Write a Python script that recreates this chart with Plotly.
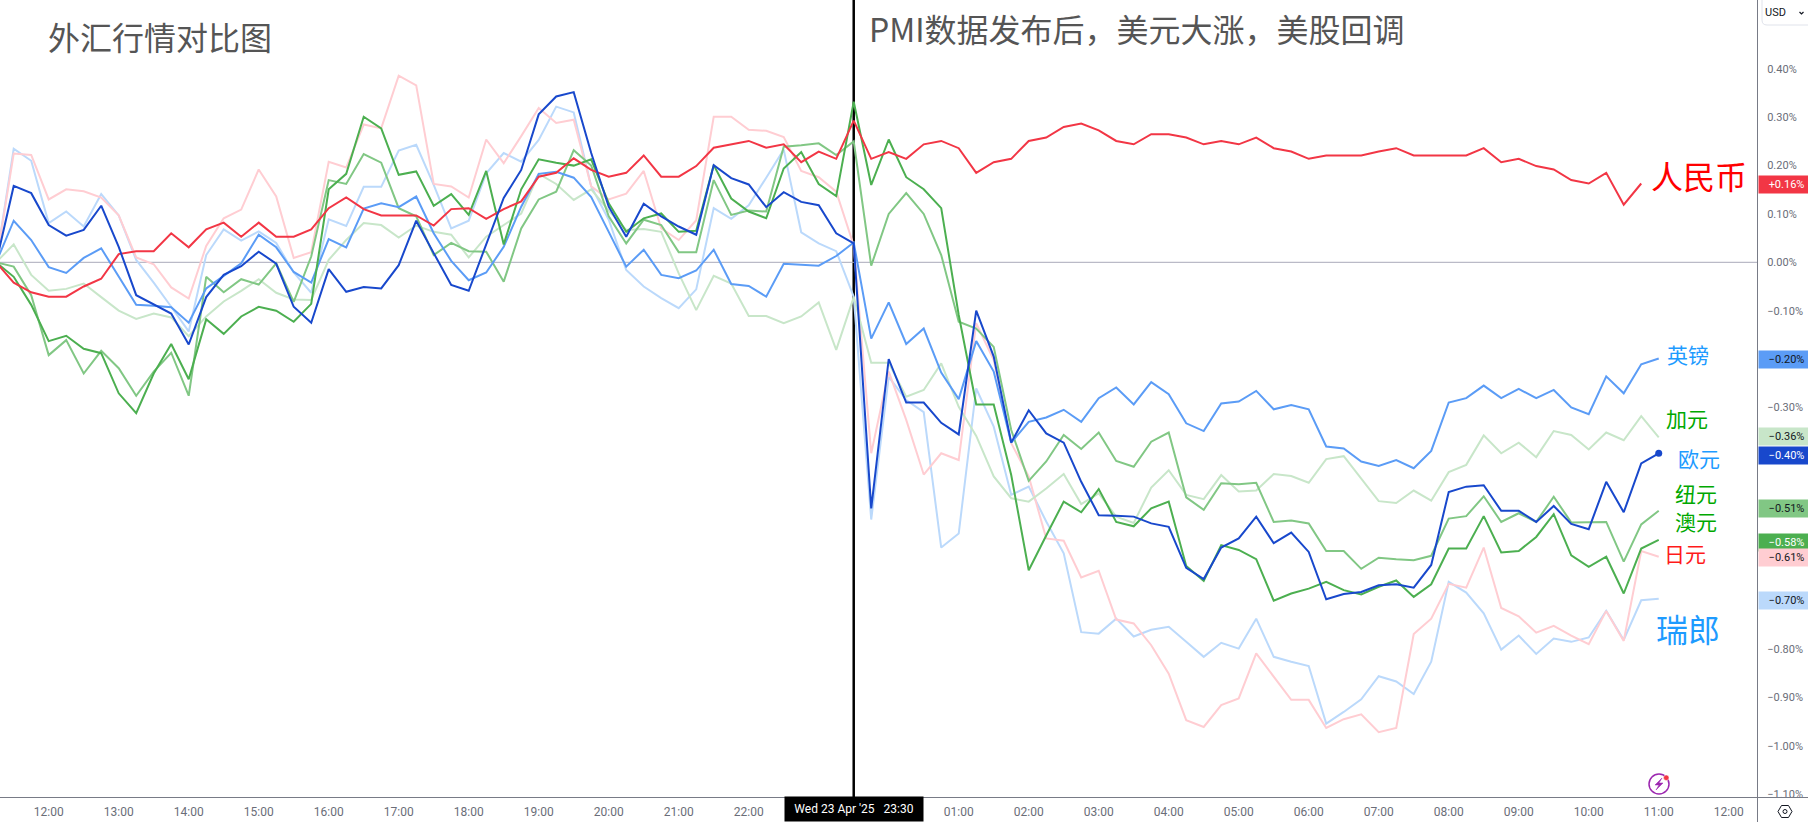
import plotly.graph_objects as go
import pandas as pd

TIMES = pd.date_range("2025-04-23 11:15", periods=96, freq="15min")

CNY = [0.000,-0.042,-0.062,-0.071,-0.071,-0.050,-0.034,0.017,0.023,0.023,
       0.060,0.031,0.068,0.082,0.053,0.082,0.053,0.053,0.068,0.112,
       0.134,0.110,0.097,0.097,0.097,0.076,0.110,0.112,0.090,0.110,
       0.126,0.177,0.185,0.215,0.191,0.177,0.185,0.221,0.177,0.177,
       0.199,0.237,0.244,0.251,0.237,0.244,0.207,0.229,0.214,0.293,
       0.214,0.228,0.214,0.244,0.251,0.236,0.185,0.207,0.214,0.251,
       0.258,0.280,0.287,0.273,0.251,0.244,0.265,0.265,0.258,0.244,
       0.251,0.244,0.258,0.236,0.229,0.214,0.221,0.221,0.221,0.229,
       0.236,0.221,0.221,0.221,0.221,0.236,0.207,0.214,0.199,0.192,
       0.170,0.163,0.185,0.119,0.163]
JPY = [0.000,0.225,0.222,0.130,0.151,0.147,0.134,0.097,0.010,-0.004,
       -0.052,-0.075,0.034,0.091,0.109,0.192,0.136,0.009,0.021,0.208,
       0.196,0.285,0.277,0.386,0.366,0.162,0.157,0.134,0.254,0.205,
       0.261,0.319,0.288,0.295,0.157,0.130,0.142,0.189,0.070,0.046,
       0.087,0.301,0.301,0.274,0.272,0.259,0.189,0.176,0.146,0.035,
       -0.395,-0.226,-0.326,-0.439,-0.395,-0.409,-0.126,-0.202,-0.374,-0.443,
       -0.571,-0.576,-0.652,-0.638,-0.739,-0.747,-0.792,-0.851,-0.947,-0.961,
       -0.916,-0.902,-0.809,-0.857,-0.905,-0.905,-0.963,-0.945,-0.935,-0.972,
       -0.963,-0.769,-0.737,-0.665,-0.673,-0.590,-0.715,-0.732,-0.766,-0.752,
       -0.772,-0.790,-0.721,-0.783,-0.597,-0.609]
CHF = [0.000,0.235,0.210,0.081,0.105,0.074,0.141,0.097,0.005,-0.042,
       -0.092,-0.143,0.015,0.068,0.045,0.064,0.040,-0.021,-0.063,0.089,
       0.075,0.156,0.156,0.231,0.243,0.160,0.070,0.086,0.184,0.226,
       0.208,0.253,0.322,0.310,0.157,0.088,-0.016,-0.050,-0.074,-0.095,
       -0.056,0.112,0.090,0.118,0.175,0.233,0.062,0.039,0.023,-0.071,
       -0.532,-0.237,-0.285,-0.310,-0.590,-0.561,-0.261,-0.340,-0.481,-0.464,
       -0.536,-0.602,-0.765,-0.768,-0.737,-0.774,-0.760,-0.754,-0.785,-0.816,
       -0.787,-0.799,-0.737,-0.816,-0.826,-0.835,-0.954,-0.930,-0.904,-0.856,
       -0.867,-0.893,-0.826,-0.661,-0.683,-0.726,-0.801,-0.772,-0.810,-0.778,
       -0.785,-0.776,-0.721,-0.781,-0.699,-0.696]
GBP = [0.000,0.086,0.046,-0.010,-0.022,0.009,0.029,-0.030,-0.088,-0.090,
       -0.093,-0.125,-0.054,-0.028,-0.002,0.057,0.031,-0.020,-0.042,0.048,
       0.031,0.111,0.122,0.114,0.136,0.060,0.003,-0.037,-0.021,0.032,
       0.115,0.183,0.187,0.175,0.135,0.063,-0.009,0.026,-0.026,-0.033,
       -0.017,0.026,-0.045,-0.049,-0.071,-0.003,-0.005,-0.007,0.013,0.041,
       -0.158,-0.083,-0.169,-0.137,-0.228,-0.283,-0.163,-0.226,-0.373,-0.330,
       -0.321,-0.305,-0.330,-0.281,-0.259,-0.294,-0.248,-0.273,-0.333,-0.349,
       -0.292,-0.288,-0.266,-0.304,-0.295,-0.304,-0.381,-0.385,-0.412,-0.421,
       -0.409,-0.426,-0.390,-0.290,-0.281,-0.255,-0.281,-0.262,-0.281,-0.264,
       -0.300,-0.314,-0.236,-0.271,-0.211,-0.199]
EUR = [0.000,0.158,0.143,0.077,0.055,0.067,0.117,0.032,-0.068,-0.087,
       -0.106,-0.170,-0.072,-0.026,-0.008,0.022,-0.003,-0.092,-0.125,-0.014,
       -0.061,-0.051,-0.054,-0.006,0.086,0.019,-0.047,-0.059,0.036,0.133,
       0.191,0.306,0.343,0.352,0.226,0.115,0.053,0.121,0.095,0.074,
       0.057,0.201,0.174,0.161,0.114,0.145,0.125,0.118,0.060,0.039,
       -0.509,-0.200,-0.290,-0.290,-0.332,-0.356,-0.100,-0.195,-0.373,-0.306,
       -0.354,-0.373,-0.454,-0.523,-0.524,-0.526,-0.540,-0.547,-0.632,-0.655,
       -0.590,-0.571,-0.526,-0.581,-0.559,-0.599,-0.697,-0.686,-0.682,-0.668,
       -0.666,-0.673,-0.626,-0.475,-0.464,-0.461,-0.514,-0.514,-0.537,-0.504,
       -0.541,-0.552,-0.454,-0.517,-0.416,-0.395]
NZD = [0.000,-0.009,-0.068,-0.192,-0.161,-0.230,-0.183,-0.219,-0.276,-0.226,
       -0.187,-0.276,-0.030,-0.062,-0.035,-0.046,-0.002,-0.082,0.012,0.170,
       0.162,0.224,0.206,0.112,0.095,0.015,0.040,0.023,0.022,-0.040,
       0.070,0.130,0.146,0.232,0.200,0.095,0.039,0.088,0.077,0.021,
       0.021,0.170,0.098,0.107,0.105,0.239,0.242,0.246,0.222,0.250,
       -0.007,0.100,0.143,0.100,0.015,-0.123,-0.137,-0.175,-0.347,-0.452,
       -0.412,-0.357,-0.386,-0.352,-0.411,-0.423,-0.371,-0.352,-0.486,-0.512,
       -0.457,-0.459,-0.456,-0.537,-0.534,-0.540,-0.597,-0.597,-0.634,-0.611,
       -0.614,-0.616,-0.607,-0.530,-0.525,-0.484,-0.537,-0.519,-0.537,-0.485,
       -0.538,-0.538,-0.537,-0.619,-0.542,-0.514]
AUD = [0.000,-0.030,-0.088,-0.163,-0.152,-0.179,-0.188,-0.271,-0.312,-0.230,
       -0.169,-0.242,-0.118,-0.148,-0.112,-0.092,-0.100,-0.123,-0.086,0.151,
       0.183,0.301,0.277,0.181,0.188,0.117,0.141,0.098,0.189,0.037,
       0.151,0.213,0.206,0.200,0.213,0.122,0.063,0.091,0.101,0.063,
       0.065,0.201,0.132,0.105,0.091,0.194,0.228,0.162,0.137,0.332,
       0.160,0.254,0.176,0.151,0.112,-0.109,-0.294,-0.294,-0.440,-0.637,
       -0.565,-0.495,-0.517,-0.469,-0.537,-0.546,-0.509,-0.495,-0.628,-0.659,
       -0.585,-0.595,-0.614,-0.700,-0.685,-0.675,-0.661,-0.678,-0.687,-0.671,
       -0.658,-0.692,-0.666,-0.592,-0.592,-0.525,-0.600,-0.597,-0.568,-0.521,
       -0.606,-0.630,-0.609,-0.685,-0.592,-0.574]
CAD = [0.000,0.037,-0.026,-0.059,-0.055,-0.044,-0.072,-0.100,-0.117,-0.106,
       -0.114,-0.153,-0.112,-0.081,-0.059,-0.035,-0.063,-0.077,-0.078,0.005,
       0.046,0.081,0.077,0.051,0.076,0.063,0.057,0.010,0.053,0.077,
       0.101,0.183,0.162,0.129,0.151,0.107,0.067,0.069,0.063,-0.023,
       -0.099,-0.028,-0.044,-0.111,-0.111,-0.126,-0.112,-0.083,-0.181,-0.072,
       -0.208,-0.208,-0.278,-0.264,-0.209,-0.299,-0.359,-0.443,-0.488,-0.495,
       -0.468,-0.438,-0.500,-0.478,-0.526,-0.539,-0.466,-0.430,-0.481,-0.490,
       -0.440,-0.474,-0.472,-0.438,-0.442,-0.456,-0.407,-0.401,-0.447,-0.494,
       -0.498,-0.472,-0.493,-0.434,-0.419,-0.358,-0.395,-0.373,-0.403,-0.349,
       -0.357,-0.387,-0.352,-0.368,-0.318,-0.362]

SERIES = [("CHF", CHF, "#bbd9fb"), ("JPY", JPY, "#ffcdd2"), ("CAD", CAD, "#c8e6c9"),
          ("NZD", NZD, "#81c784"), ("GBP", GBP, "#5b9cf6"), ("AUD", AUD, "#4caf50"),
          ("CNY", CNY, "#f23645"), ("EUR", EUR, "#1848cc")]

Y_TICKS = [0.4, 0.3, 0.2, 0.1, 0.0, -0.1, -0.3, -0.5, -0.8, -0.9, -1.0, -1.1]
Y_TICK_LABELS = ["0.40%", "0.30%", "0.20%", "0.10%", "0.00%", "−0.10%", "−0.30%",
                 "−0.50%", "−0.80%", "−0.90%", "−1.00%", "−1.10%"]

X_TICKS = ["2025-04-23 12:00", "2025-04-23 13:00", "2025-04-23 14:00", "2025-04-23 15:00",
           "2025-04-23 16:00", "2025-04-23 17:00", "2025-04-23 18:00", "2025-04-23 19:00",
           "2025-04-23 20:00", "2025-04-23 21:00", "2025-04-23 22:00", "2025-04-24 01:00",
           "2025-04-24 02:00", "2025-04-24 03:00", "2025-04-24 04:00", "2025-04-24 05:00",
           "2025-04-24 06:00", "2025-04-24 07:00", "2025-04-24 08:00", "2025-04-24 09:00",
           "2025-04-24 10:00", "2025-04-24 11:00", "2025-04-24 12:00"]
X_TICK_LABELS = ["12:00", "13:00", "14:00", "15:00", "16:00", "17:00", "18:00", "19:00", "20:00",
                 "21:00", "22:00", "01:00", "02:00", "03:00", "04:00", "05:00", "06:00", "07:00",
                 "08:00", "09:00", "10:00", "11:00", "12:00"]

LAST_TAGS = [(0.16, "+0.16%", "#f23645", "#ffffff"), (-0.20, "−0.20%", "#5b9cf6", "#131722"),
             (-0.36, "−0.36%", "#c8e6c9", "#131722"), (-0.40, "−0.40%", "#1848cc", "#ffffff"),
             (-0.51, "−0.51%", "#81c784", "#131722"), (-0.58, "−0.58%", "#4caf50", "#ffffff"),
             (-0.61, "−0.61%", "#ffcdd2", "#131722"), (-0.70, "−0.70%", "#bbd9fb", "#131722")]

CJK = "Noto Sans CJK SC"
NOTES = [("外汇行情对比图", 160, 36, 32, "#555555"),
         ("PMI数据发布后\uff0c美元大涨\uff0c美股回调", 1137, 28, 32, "#555555"),
         ("人民币", 1699, 175, 32, "#ff0000"), ("英镑", 1688, 354, 21, "#1e9bff"),
         ("加元", 1687, 418, 21, "#00a800"), ("欧元", 1699, 458, 21, "#1e9bff"),
         ("纽元", 1696, 493, 21, "#00a800"), ("澳元", 1696, 521, 21, "#00a800"),
         ("日元", 1685, 553, 21, "#ff1a1a"), ("瑞郎", 1688, 628, 32, "#1e9bff")]

W, H, PW, PH = 1808, 822, 1757, 797
def PX(p): return p / PW
def PY(p): return 1 - p / PH
def path(points, close=False):
    s = "M " + " L ".join(f"{PX(a):.6f},{PY(b):.6f}" for a, b in points)
    return s + (" Z" if close else "")

fig = go.Figure()
for name, vals, color in SERIES:
    fig.add_trace(go.Scatter(x=TIMES[:len(vals)], y=vals, mode="lines", name=name,
                             line=dict(color=color, width=2), hoverinfo="skip"))
fig.add_trace(go.Scatter(x=[TIMES[-1]], y=[EUR[-1]], mode="markers", name="EUR last",
                         marker=dict(color="#1848cc", size=7), hoverinfo="skip"))

AXC = "#787b86"
shapes = [
    dict(type="line", xref="x", yref="paper", x0=TIMES[49], x1=TIMES[49], y0=0, y1=1,
         line=dict(color="#000000", width=2.5), layer="below"),
    dict(type="line", xref="paper", yref="y", x0=0, x1=1, y0=0, y1=0,
         line=dict(color="#a9a9ba", width=1), layer="below"),
    dict(type="rect", xref="paper", yref="paper", x0=PX(1758), x1=PX(1808), y0=PY(822), y1=PY(798),
         fillcolor="#ffffff", line=dict(width=0), layer="above"),
    dict(type="line", xref="paper", yref="paper", x0=PX(0), x1=PX(1808), y0=PY(797.5), y1=PY(797.5),
         line=dict(color=AXC, width=1), layer="above"),
    dict(type="line", xref="paper", yref="paper", x0=PX(1757.5), x1=PX(1757.5), y0=PY(0), y1=PY(822),
         line=dict(color=AXC, width=1), layer="above"),
    dict(type="path", xref="paper", yref="paper", layer="above",
         path=f"M {PX(1762)},{PY(0)} L {PX(1762)},{PY(20)} Q {PX(1762)},{PY(25)} {PX(1767)},{PY(25)} L {PX(1808)},{PY(25)}",
         line=dict(color="#e0e3eb", width=1)),
    dict(type="path", xref="paper", yref="paper", layer="above",
         path=path([(1799.5, 12), (1801.5, 14), (1803.5, 12)]), line=dict(color="#131722", width=1.2)),
    dict(type="circle", xref="paper", yref="paper", layer="above",
         x0=PX(1649), x1=PX(1669), y0=PY(794), y1=PY(774), line=dict(color="#9c27b0", width=1.5)),
    dict(type="path", xref="paper", yref="paper", layer="above", fillcolor="#9c27b0",
         path=path([(1662, 778), (1655, 785), (1659, 785), (1656, 790), (1663, 783), (1659, 783)], True),
         line=dict(color="#9c27b0", width=0.5)),
    dict(type="circle", xref="paper", yref="paper", layer="above", fillcolor="#f23645",
         x0=PX(1663.5), x1=PX(1669), y0=PY(780.5), y1=PY(775), line=dict(color="#ffffff", width=0.5)),
    dict(type="path", xref="paper", yref="paper", layer="above",
         path=path([(1778, 811.5), (1781.5, 805.5), (1788.5, 805.5), (1792, 811.5), (1788.5, 817.5), (1781.5, 817.5)], True),
         line=dict(color="#131722", width=1)),
    dict(type="circle", xref="paper", yref="paper", layer="above",
         x0=PX(1783), x1=PX(1787), y0=PY(813.5), y1=PY(809.5), line=dict(color="#131722", width=1)),
]

ann = []
for txt, cx, cy, size, col in NOTES:
    ann.append(dict(text=txt, xref="paper", yref="paper", x=PX(cx), y=PY(cy), xanchor="center", yanchor="middle",
                    showarrow=False, font=dict(family=CJK, size=size, color=col)))
for val, txt, bg, fg in LAST_TAGS:
    ann.append(dict(text=txt, xref="paper", yref="y", x=PX(1757.5), y=val, xanchor="left", yanchor="middle",
                    showarrow=False, width=55, height=17, align="center", bgcolor=bg, borderpad=0,
                    font=dict(family="Roboto", size=11, color=fg)))
ann.append(dict(text="Wed 23 Apr '25   23:30", xref="paper", yref="paper", x=PX(854), y=PY(809), xanchor="center",
                yanchor="middle", showarrow=False, width=138, height=24, bgcolor="#000000", borderpad=0,
                font=dict(family="Roboto", size=12, color="#ffffff")))
ann.append(dict(text="USD", xref="paper", yref="paper", x=PX(1776), y=PY(12.5), xanchor="center", yanchor="middle",
                showarrow=False, font=dict(family="Roboto", size=11, color="#131722")))

fig.update_layout(
    width=W, height=H, margin=dict(l=0, r=W - PW, t=0, b=H - PH),
    plot_bgcolor="#ffffff", paper_bgcolor="#ffffff", showlegend=False,
    shapes=shapes, annotations=ann,
    xaxis=dict(type="date", range=["2025-04-23 11:18:15", "2025-04-24 12:24:14"],
               tickmode="array", tickvals=X_TICKS, ticktext=X_TICK_LABELS, showgrid=False, zeroline=False,
               ticks="outside", ticklen=4, tickcolor="rgba(0,0,0,0)", showline=False,
               tickfont=dict(family="Roboto", size=12, color="#6a6d78")),
    yaxis=dict(side="right", range=[-1.1059, 0.5425], tickmode="array", tickvals=Y_TICKS, ticktext=Y_TICK_LABELS,
               showgrid=False, zeroline=False, showline=False, ticks="outside", ticklen=7,
               tickcolor="rgba(0,0,0,0)", tickfont=dict(family="Roboto", size=11, color="#6a6d78")),
)
fig.write_html("out.html", config=dict(displayModeBar=False),
               post_script="document.body.style.margin='0';document.body.style.overflow='hidden';")
